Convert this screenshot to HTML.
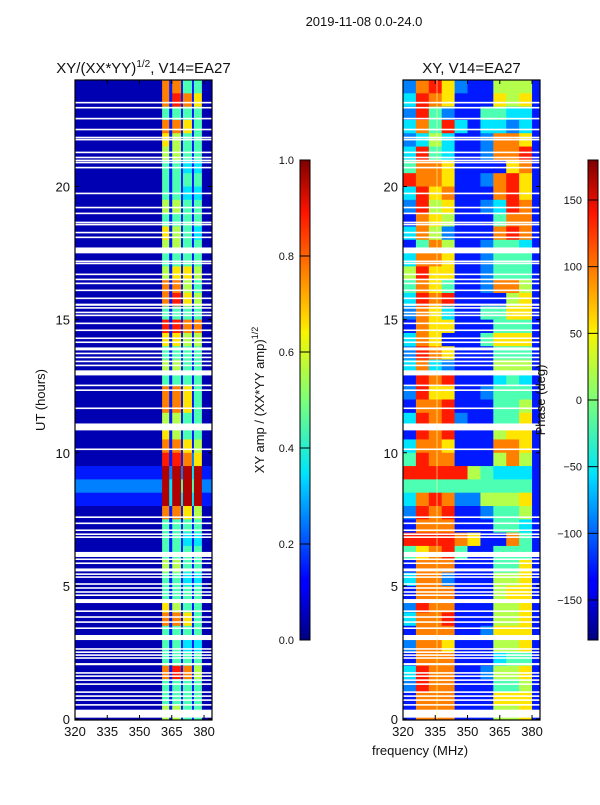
<!DOCTYPE html>
<html><head><meta charset="utf-8">
<style>
body{margin:0;background:#fff;width:600px;height:800px;overflow:hidden;font-family:"Liberation Sans","DejaVu Sans",sans-serif;}
svg text{font-family:"Liberation Sans","DejaVu Sans",sans-serif;fill:#111;}
</style></head>
<body>
<svg id="chart" width="600" height="800" xmlns="http://www.w3.org/2000/svg">
<defs>
<linearGradient id="jet" x1="0" y1="1" x2="0" y2="0">
<stop offset="0" stop-color="#00007f"/><stop offset="0.11" stop-color="#0000ff"/>
<stop offset="0.125" stop-color="#0000ff"/><stop offset="0.34" stop-color="#00dbff"/>
<stop offset="0.35" stop-color="#00e5f8"/><stop offset="0.5" stop-color="#7cff79"/>
<stop offset="0.64" stop-color="#f8f500"/><stop offset="0.66" stop-color="#ffde00"/>
<stop offset="0.89" stop-color="#ff1300"/><stop offset="1" stop-color="#7f0000"/>
</linearGradient>
</defs>
<text x="364" y="26" font-size="13" text-anchor="middle">2019-11-08 0.0-24.0</text>
<g id="left"></g>
<g id="right"></g>
<g id="cbars"></g>
</svg>
<script>
// frequency column edges (MHz)
const ampFreqEdges=[320,360.5,363.8,365.2,369.3,370.2,374.4,375.3,379,383.7];
const phaseFreqEdges=[320,326,332,338,344,350,356,362,368,374,380,383.7];
// rows: half-hour bins from 24h down to 0h; digit d -> value (d+0.5)/10
const ampRows=["071714140","071817160","041414140","071716140","061514140","051514140","041413130","041414140","041413130","051514140","041414140","061514130","051514140","041414140","051616150","071715140","071816150","041414140","081817170","061615150","041414140","051514140","041414140","071716140","071716140","051514140","061514140","071716150","081817260","192929391","293949492","193939391","071716150","041414140","041413130","041414140","051514140","041413130","041414140","061514140","071716140","041414140","041413130","041414140","071817150","041414140","041414140","051514140"];
const phaseRows=["27862115551","38761116561","28421144331","37483133231","23531127761","38431127781","47761111671","87761127861","38671117861","28561123871","17651114771","37521117871","14751124431","37761124441","58661124441","47641127751","38781111561","27631144661","17661114441","37611146661","28761114441","37321115551","18781113431","28661124441","17781114451","38782114461","18781115661","37761117761","48771115751","88888543331","44444444441","37872255561","28781124451","17771114431","88887611741","46784114441","17771114461","37721115561","17771115661","28771115561","37781115561","17771126661","27761115561","17771113441","38771125561","28771114451","17771116661","17771115561"];
// flagged (blank) time stripes: center hour and width hour
const flagCenters=[23.15,22.96,22.55,22.14,21.84,21.76,21.28,21.09,20.98,20.9,20.71,19.74,19.21,18.99,18.65,18.57,18.27,18.09,17.6,17.19,17.11,16.7,16.51,16.36,16.1,15.8,15.56,15.44,15.27,15.16,14.86,14.6,14.3,14.15,13.9,13.73,13.58,13.43,13.28,13.0,12.53,12.35,11.67,10.97,10.13,7.58,7.35,7.09,6.94,6.83,6.18,6.0,5.85,5.6,5.44,5.33,5.07,4.92,4.77,4.65,4.43,4.05,3.83,3.64,3.41,3.06,2.63,2.51,2.4,2.29,2.06,1.73,1.61,1.46,1.31,1.01,0.86,0.71,0.53,0.2];
const flagWidths=[0.06,0.06,0.06,0.06,0.06,0.06,0.06,0.06,0.06,0.06,0.06,0.06,0.06,0.06,0.06,0.06,0.06,0.06,0.22,0.06,0.06,0.06,0.06,0.06,0.06,0.06,0.08,0.06,0.06,0.06,0.06,0.06,0.06,0.06,0.11,0.06,0.06,0.06,0.06,0.19,0.06,0.06,0.06,0.26,0.06,0.06,0.06,0.06,0.06,0.06,0.19,0.06,0.06,0.11,0.06,0.06,0.06,0.06,0.06,0.06,0.15,0.06,0.06,0.06,0.06,0.19,0.06,0.06,0.06,0.06,0.08,0.06,0.06,0.06,0.06,0.06,0.06,0.06,0.06,0.3];
const freqTicks=[320,335,350,365,380];
const hourTicks=[0,5,10,15,20];
const ampCbTicks=[0,0.2,0.4,0.6,0.8,1.0];
const phaseCbTicks=[-150,-100,-50,0,50,100,150];

const NS="http://www.w3.org/2000/svg";
function el(tag,attrs,parent){const e=document.createElementNS(NS,tag);for(const k in attrs)e.setAttribute(k,attrs[k]);parent.appendChild(e);return e;}
function jet(v){v=Math.max(0,Math.min(1,v));
 const r=Math.max(0,Math.min(1,Math.min(4*v-1.5,-4*v+4.5)));
 const g=Math.max(0,Math.min(1,Math.min(4*v-0.5,-4*v+3.5)));
 const b=Math.max(0,Math.min(1,Math.min(4*v+0.5,-4*v+2.5)));
 return `rgb(${Math.round(r*255)},${Math.round(g*255)},${Math.round(b*255)})`;}
const Y0=719,Y1=80,F0=320,F1=383.7;
function yS(h){return Y0-(h/24)*(Y0-Y1);}

function panel(gid,x0,x1,edges,rows,title){
 const g=document.getElementById(gid);
 const xS=f=>x0+(f-F0)/(F1-F0)*(x1-x0);
 rows.forEach((row,ri)=>{
  const hTop=24-ri*0.5,hBot=hTop-0.5;
  for(let c=0;c<row.length;c++){
   const v=(parseInt(row[c])+0.5)/10;
   const r=el('rect',{x:xS(edges[c]),y:yS(hTop),width:xS(edges[c+1])-xS(edges[c])+0.5,height:yS(hBot)-yS(hTop)+0.5,fill:jet(v)},g);
   
   
  }
 });
 flagCenters.forEach((h,i)=>{
  const w=flagWidths[i];
  const r=el('rect',{x:x0,y:yS(h+w/2),width:x1-x0,height:Math.max(1.2,yS(h-w/2)-yS(h+w/2)),fill:'#fff'},g);
  
  
 });
 const fr=el('rect',{x:x0,y:Y1,width:x1-x0,height:Y0-Y1+1,fill:'none',stroke:'#000','stroke-width':1.2},g);
 
 
 freqTicks.forEach(f=>{const x=xS(f);
  el('line',{x1:x,y1:Y0+1,x2:x,y2:Y0-4,stroke:'#000'},g);
  el('line',{x1:x,y1:Y1,x2:x,y2:Y1+4,stroke:'#000'},g);
  const t=el('text',{x:x,y:Y0+17,'font-size':13,'text-anchor':'middle'},g);t.textContent=f;
  
  });
 hourTicks.forEach(h=>{const y=yS(h);
  el('line',{x1:x0,y1:y,x2:x0+4,y2:y,stroke:'#000'},g);
  el('line',{x1:x1,y1:y,x2:x1-4,y2:y,stroke:'#000'},g);
  const t=el('text',{x:x0-5,y:y+5,'font-size':13,'text-anchor':'end'},g);t.textContent=h;
  
  });
 const tt=el('text',{x:(x0+x1)/2,y:73,'font-size':15,'text-anchor':'middle'},g);
 tt.innerHTML=title;
 
 
}
panel('left',75,212,ampFreqEdges,ampRows,'XY/(XX*YY)<tspan font-size="10" dy="-6">1/2</tspan><tspan dy="6">, V14=EA27</tspan>');
panel('right',403,540,phaseFreqEdges,phaseRows,'XY, V14=EA27');
(function(){const g=document.getElementById('right');
 const l=el('line',{x1:437,y1:80,x2:437,y2:719,stroke:'#ffff99','stroke-width':1,opacity:0.6},g);
 
 })();

const svg=document.getElementById('chart');
let t=el('text',{x:0,y:0,'font-size':13,'text-anchor':'middle',transform:'translate(45,400) rotate(-90)'},svg);t.textContent='UT (hours)';


t=el('text',{x:420,y:755,'font-size':13,'text-anchor':'middle'},svg);t.textContent='frequency (MHz)';



function cbar(x,lo,hi,ticks,fmt,lab,labX){
 const g=document.getElementById('cbars');
 const y0=640,y1=160;const yC=v=>y0-(v-lo)/(hi-lo)*(y0-y1);
 const r=el('rect',{x:x,y:y1,width:10,height:y0-y1,fill:'url(#jet)',stroke:'#000','stroke-width':1},g);
 
 
 ticks.forEach(v=>{const y=yC(v);
  el('line',{x1:x,y1:y,x2:x+10,y2:y,stroke:'#000'},g);
  const tx=el('text',{x:x-6,y:y+4,'font-size':11,'text-anchor':'end'},g);tx.textContent=fmt(v);
  
  });
 const lt=el('text',{x:0,y:0,'font-size':13,'text-anchor':'middle',transform:`translate(${labX},400) rotate(-90)`},g);
 lt.innerHTML=lab;
 
 
}
cbar(300,0,1,ampCbTicks,v=>v.toFixed(1),'XY amp / (XX*YY amp)<tspan font-size="9" dy="-6">1/2</tspan>',264);
cbar(588,-180,180,phaseCbTicks,v=>v<0?'\u2212'+(-v):String(v),'Phase (deg)',545);
</script>
</body></html>
